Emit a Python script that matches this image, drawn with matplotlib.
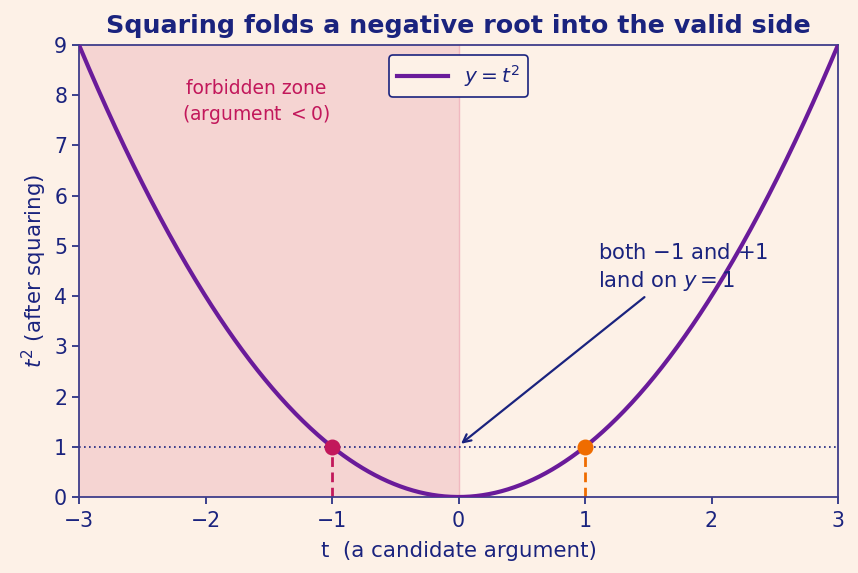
import numpy as np
import matplotlib.pyplot as plt

# Data
t_min, t_max = -3, 3
t = np.linspace(t_min, t_max, 601)
y = t ** 2
root_t = [-1, 1]
root_y = [1, 1]
root_colors = ['#c2185b', '#ef6c00']
xticks = [-3, -2, -1, 0, 1, 2, 3]
yticks = [0, 1, 2, 3, 4, 5, 6, 7, 8, 9]

navy = '#1a237e'
purple = '#6a1b9a'
bg = '#fdf1e7'

plt.rcParams['font.family'] = ['DejaVu Sans']

fig = plt.figure(figsize=(8.58, 5.73), dpi=100, facecolor=bg)
ax = fig.add_axes([79 / 858, 1 - 497 / 573, (838 - 79) / 858, (497 - 45) / 573])
ax.set_facecolor(bg)

# forbidden zone
ax.axvspan(t_min, 0, color='#e8a0ad', alpha=0.35, lw=0, zorder=0)
ax.axvline(0, color='#f0b8c0', lw=1, zorder=0.5)

# horizontal reference at y=1
ax.axhline(1, color=navy, lw=1.2, ls=(0, (1, 2)), zorder=1)

ax.plot(t, y, color=purple, lw=3, label='$y = t^2$', zorder=3)

for tx, ty, c in zip(root_t, root_y, root_colors):
    ax.plot([tx, tx], [0, ty], color=c, lw=2, ls=(0, (3.5, 2)), zorder=2)
    ax.scatter([tx], [ty], s=110, color=c, zorder=4)

ax.text(-1.6, 7.85, 'forbidden zone\n(argument $< 0$)', color='#c2185b',
        ha='center', va='center', fontsize=13.5, linespacing=1.3)

ax.text(1.1, 4.56, 'both $-1$ and $+1$\nland on $y = 1$', color=navy,
        fontsize=15.2, ha='left', va='center', linespacing=1.3)
ax.annotate('', xy=(0.02, 1.06), xytext=(1.47, 3.98),
            arrowprops=dict(arrowstyle='->', color=navy, lw=1.6,
                            shrinkA=0, shrinkB=0, mutation_scale=14))

ax.set_xlim(t_min, t_max)
ax.set_ylim(0, 9)
ax.set_xticks(xticks)
ax.set_yticks(yticks)
ax.tick_params(colors=navy, labelsize=14.8, width=1.2, length=5)
ax.tick_params(axis='x', pad=5)
for s in ax.spines.values():
    s.set_color('#3f3d8a')
    s.set_linewidth(1.3)

ax.set_xlabel('t  (a candidate argument)', color=navy, fontsize=15.4, labelpad=7)
ax.set_ylabel('$t^2$ (after squaring)', color=navy, fontsize=15.4)
ax.set_title('Squaring folds a negative root into the valid side', color=navy,
             fontsize=18.3, fontweight='bold', pad=9)

leg = ax.legend(loc='upper center', fontsize=14.5, facecolor=bg, edgecolor=navy,
                framealpha=1, handlelength=2.5)
for txt in leg.get_texts():
    txt.set_color(navy)
leg.get_frame().set_linewidth(1.2)

plt.savefig('out.png', dpi=100, facecolor=bg)
